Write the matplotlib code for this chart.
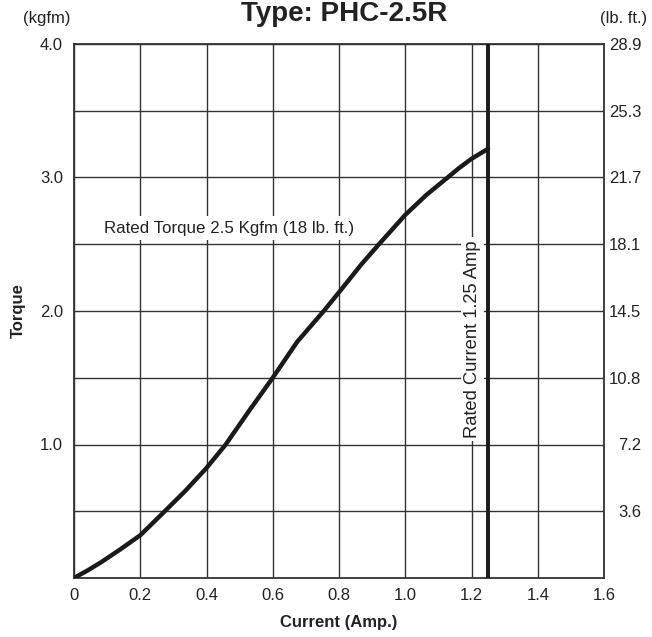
import matplotlib
matplotlib.use("Agg")
import matplotlib.pyplot as plt

plt.rcParams['font.family'] = ['Liberation Sans', 'DejaVu Sans']

# Data
current = [0, 0.04, 0.083, 0.14, 0.2, 0.274, 0.335, 0.4, 0.458, 0.528, 0.6,
           0.674, 0.754, 0.8, 0.866, 0.917, 1.0, 1.064, 1.128, 1.162, 1.2,
           1.25]
torque = [0, 0.055, 0.12, 0.215, 0.32, 0.5, 0.65, 0.824, 1.0, 1.25, 1.5,
          1.77, 2.0, 2.14, 2.345, 2.49, 2.72, 2.87, 3.0, 3.07, 3.14, 3.215]
x_ticks = [0, 0.2, 0.4, 0.6, 0.8, 1.0, 1.2, 1.4, 1.6]
x_labels = ['0', '0.2', '0.4', '0.6', '0.8', '1.0', '1.2', '1.4', '1.6']
y_ticks = [0.5, 1.0, 1.5, 2.0, 2.5, 3.0, 3.5, 4.0]
y_labels = ['', '1.0', '', '2.0', '', '3.0', '', '4.0']
lbft_labels = ['3.6', '7.2', '10.8', '14.5', '18.1', '21.7', '25.3', '28.9']
rated_current = 1.25
rated_torque = 2.5

TXT = '#222222'
fig = plt.figure(figsize=(6.52, 6.37), dpi=100)
ax = fig.add_axes([74/652, 1-578/637, 530/652, 534/637])
ax.set_xlim(0, 1.6)
ax.set_ylim(0, 4.0)

ax.set_xticks(x_ticks)
ax.set_xticklabels(x_labels)
ax.set_yticks(y_ticks)
ax.set_yticklabels(y_labels)
ax.tick_params(axis='both', length=0, labelsize=12, colors=TXT)
ax.tick_params(axis='x', pad=7)
ax.tick_params(axis='y', pad=8)
ax.grid(True, color='#333333', linewidth=1.0, zorder=1)
ax.set_axisbelow(True)
for s in ax.spines.values():
    s.set_linewidth(1.3)
    s.set_color('#333333')

ax2 = ax.twinx()
ax2.set_ylim(0, 4.0)
ax2.set_yticks(y_ticks)
ax2.set_yticklabels(lbft_labels)
ax2.tick_params(axis='y', length=0, labelsize=12, colors=TXT, pad=27)
for lab in ax2.get_yticklabels():
    lab.set_horizontalalignment('right')
for s in ax2.spines.values():
    s.set_visible(False)

# Curve and rated current line
ax.plot(current, torque, color='#1a1a1a', linewidth=3.2, zorder=5,
        solid_capstyle='round', solid_joinstyle='round')
ax.axvline(rated_current, color='#1a1a1a', linewidth=2.8, zorder=6)

ax.text(0.469, 2.62, 'Rated Torque 2.5 Kgfm (18 lb. ft.)', fontsize=12.2,
        color=TXT, ha='center', va='center', zorder=3,
        bbox=dict(facecolor='white', edgecolor='none', pad=3))
ax.text(1.203, 1.79, 'Rated Current 1.25 Amp', fontsize=13.2, rotation=90,
        color=TXT, ha='center', va='center', zorder=3,
        bbox=dict(facecolor='white', edgecolor='none', pad=2))

ax.set_xlabel('Current (Amp.)', fontsize=12, fontweight='bold', color=TXT,
              labelpad=9)
ax.set_ylabel('Torque', fontsize=12, fontweight='bold', color=TXT, labelpad=10)

fig.text(344/652, 1-21/637, 'Type: PHC-2.5R', fontsize=20, fontweight='bold',
         color=TXT, ha='center', va='baseline')
fig.text(47/652, 1-18/637, '(kgfm)', fontsize=12, color=TXT,
         ha='center', va='center')
fig.text(624/652, 1-18/637, '(lb. ft.)', fontsize=12, color=TXT,
         ha='center', va='center')

fig.savefig('out.png', dpi=100)
